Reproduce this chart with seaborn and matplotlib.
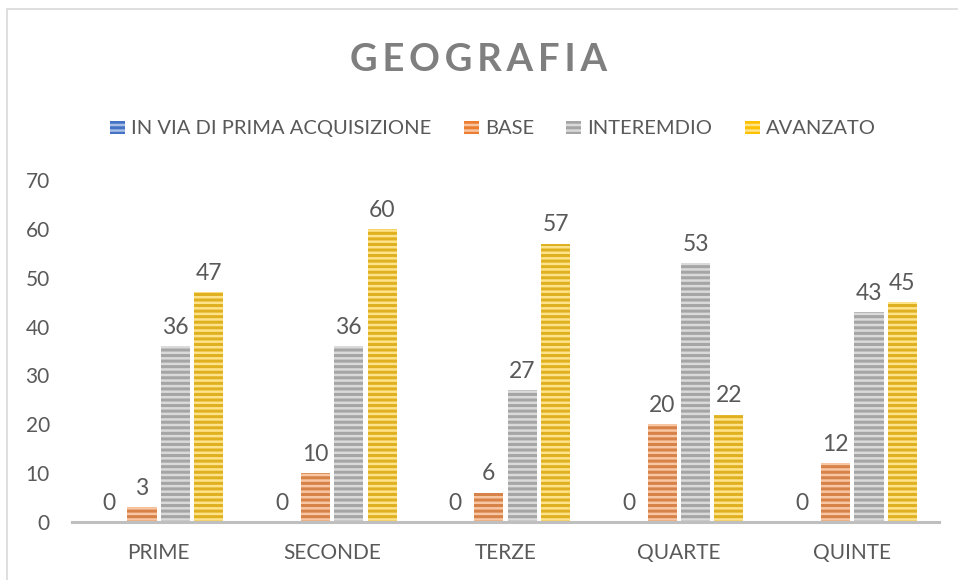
import matplotlib
matplotlib.use("Agg")
import matplotlib.pyplot as plt
from matplotlib.patches import Patch, Rectangle
import pandas as pd
import seaborn as sns

classi = ["PRIME", "SECONDE", "TERZE", "QUARTE", "QUINTE"]
livelli = ["IN VIA DI PRIMA ACQUISIZIONE", "BASE", "INTEREMDIO", "AVANZATO"]
in_via = [0, 0, 0, 0, 0]
base = [3, 10, 6, 20, 12]
intermedio = [36, 36, 27, 53, 43]
avanzato = [47, 60, 57, 22, 45]

colori = ["#4472C4", "#ED7D31", "#A5A5A5", "#FFC000"]
strisce = ["#A9BFE6", "#F8C6A2", "#DADADA", "#FFE38A"]
TESTO = "#595959"


def main():
    rows = []
    for livello, valori in zip(livelli, [in_via, base, intermedio, avanzato]):
        for classe, v in zip(classi, valori):
            rows.append({"classe": classe, "livello": livello, "valore": v})
    df = pd.DataFrame(rows)

    sns.set_style("white")
    plt.rcParams["font.family"] = ["Lato", "DejaVu Sans"]
    plt.rcParams["hatch.linewidth"] = 1.8

    fig = plt.figure(figsize=(9.58, 5.8), dpi=100)
    ax = fig.add_axes([72 / 958, 58 / 580, (939 - 72) / 958, 342 / 580])

    sns.barplot(data=df, x="classe", y="valore", hue="livello",
                order=classi, hue_order=livelli, palette=colori,
                width=0.77, gap=0.13, legend=False, ax=ax)

    # strisce orizzontali chiare sulle barre
    for cont, s in zip(ax.containers, strisce):
        for bar in cont:
            bar.set_hatch("---")
            bar.set_edgecolor(s)
            bar.set_linewidth(0)
        ax.bar_label(cont, padding=6, fontsize=16.5, color=TESTO)

    ax.set_ylim(0, 70)
    ax.set_yticks(range(0, 71, 10))
    ax.set_xlabel("")
    ax.set_ylabel("")
    ax.tick_params(axis="y", length=0, pad=16, labelsize=15, labelcolor=TESTO)
    ax.tick_params(axis="x", length=0, pad=15, labelsize=15, labelcolor=TESTO)
    for side in ["top", "right", "left"]:
        ax.spines[side].set_visible(False)
    ax.spines["bottom"].set_color("#BFBFBF")
    ax.spines["bottom"].set_linewidth(2.2)

    handles = [Patch(facecolor=c, edgecolor=s, hatch="---", linewidth=0)
               for c, s in zip(colori, strisce)]
    fig.legend(handles, livelli, loc="center", bbox_to_anchor=(0.5 + 14 / 958, 1 - 129 / 580),
               ncol=4, frameon=False, fontsize=14.5, labelcolor=TESTO,
               handlelength=0.75, handleheight=0.65, handletextpad=0.3,
               columnspacing=1.6)

    fig.text(0.5, 1 - 60 / 580, "\u2009".join("GEOGRAFIA"), ha="center", va="center",
             fontsize=27.5, fontweight="bold", color="#7F7F7F")

    fig.add_artist(Rectangle((7 / 958, -0.05), 1.0, 1 - 9 / 580 + 0.05,
                             transform=fig.transFigure, fill=False,
                             edgecolor="#D9D9D9", linewidth=1.2))

    fig.savefig("out.png", dpi=100)
    plt.close(fig)


if __name__ == "__main__":
    main()
